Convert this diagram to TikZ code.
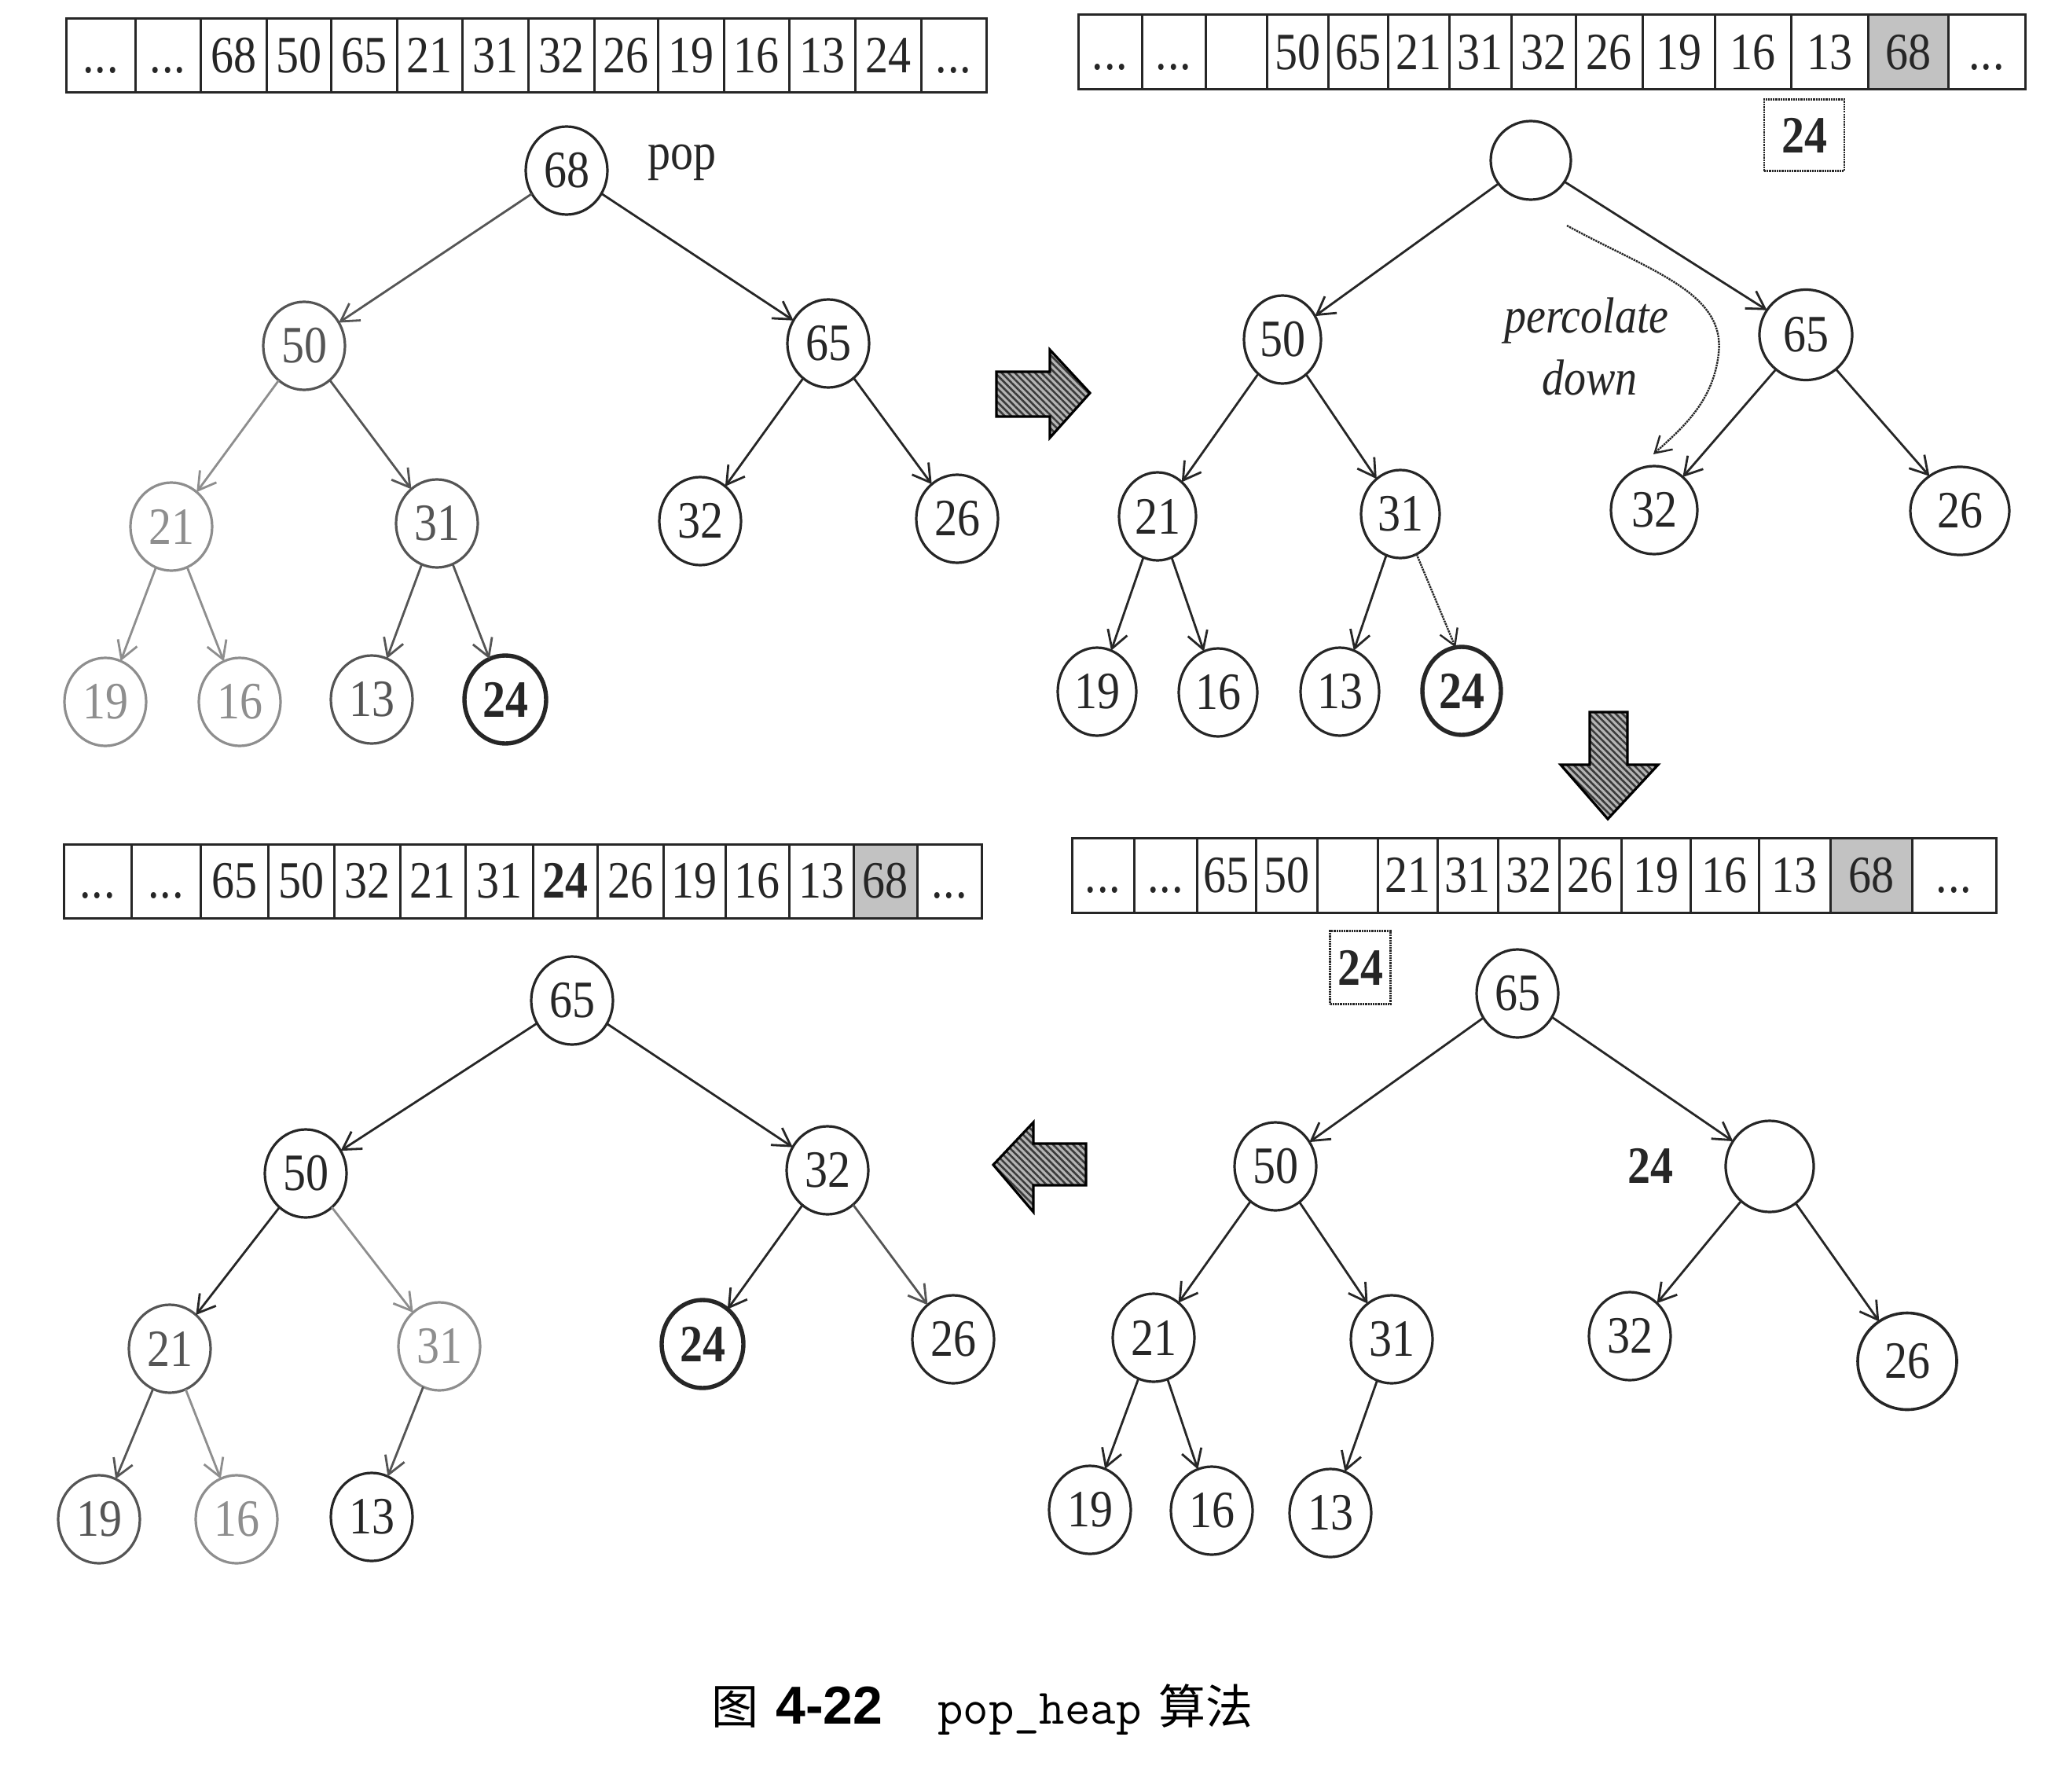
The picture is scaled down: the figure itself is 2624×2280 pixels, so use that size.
\documentclass[tikz,border=0pt]{standalone}
\usepackage{fontspec}
\setmainfont{Liberation Serif}
\newfontfamily\cjk{Noto Sans CJK SC}
\newfontfamily\capsans{Liberation Sans}
\usepackage{graphicx}
\usetikzlibrary{arrows.meta,shapes.geometric,patterns.meta}
\definecolor{ink}{HTML}{262626}
\definecolor{mid}{HTML}{555555}
\definecolor{lite}{HTML}{8E8E8E}
\definecolor{cg}{HTML}{C2C2C2}
\definecolor{hlight}{HTML}{B4B4B4}
\definecolor{hdark}{HTML}{3A3A3A}
\newcommand\numfont{\fontsize{58}{60}\selectfont}
\newcommand\tnum[1]{\scalebox{1}[1.15]{#1}}
\newcommand\tdots{.\kern1pt.\kern1pt.}
\newcommand\drawarray[4]{%
  \foreach \xa/\xb/\txt/\fc [count=\i] in {#4} {%
    \node[cell, fill=\fc, minimum width={\xb pt-\xa pt}, minimum height={#3pt-#2pt}]
      (#1\i) at ({(\xa+\xb)/2},{(#2+#3)/2}) {\tnum{\vphantom{0}\txt}};
  }%
}
\begin{document}
\begin{tikzpicture}[x=1pt,y=-1pt,
  nd/.style={ellipse, draw=ink, text=ink, line width=3.2pt, minimum width=104pt,
    minimum height=112pt, inner sep=0pt, outer sep=0pt, font=\numfont},
  bnd/.style={nd, line width=5.4pt, font=\numfont\bfseries},
  lnd/.style={nd, draw=lite, text=lite},
  mnd/.style={nd, draw=mid, text=mid},
  arr/.style={draw=ink, line width=2.8pt, -{Straight Barb[length=22pt,width=26pt]}},
  larr/.style={arr, draw=lite},
  marr/.style={arr, draw=mid},
  darr/.style={draw=ink, densely dotted, line width=2.4pt, -{Straight Barb[length=20pt,width=24pt]}},
  cell/.style={rectangle, draw=ink, line width=3pt, inner sep=0pt, outer sep=0pt,
    font=\numfont, text=ink},
  dbox/.style={rectangle, draw=ink, densely dotted, line width=2.2pt, inner sep=0pt,
    font=\numfont\bfseries, text=ink},
  lbl/.style={inner sep=0pt, font=\numfont, text=ink},
  blk/.style={draw=black, line width=3.2pt, preaction={fill=hlight},
    pattern={Lines[angle=-45,distance=6pt,line width=2.6pt]}, pattern color=hdark,
    line join=miter}
]
\fill[white] (0,0) rectangle (2624,2280);
\useasboundingbox (0,0) rectangle (2624,2280);

% ---------------- arrays ----------------
\drawarray{ta}{24}{118}{84/172/\tdots/white, 172/255/\tdots/white, 255/339/68/white,
  339/421/50/white, 421/505/65/white, 505/588/21/white, 588/672/31/white,
  672/756/32/white, 756/837/26/white, 837/921/19/white, 921/1004/16/white,
  1004/1088/13/white, 1088/1172/24/white, 1172/1255/\tdots/white}
\drawarray{tb}{19}{114}{1372/1453/\tdots/white, 1453/1534/\tdots/white, 1534/1612/{}/white,
  1612/1690/50/white, 1690/1766/65/white, 1766/1844/21/white, 1844/1923/31/white,
  1923/2005/32/white, 2005/2090/26/white, 2090/2182/19/white, 2182/2279/16/white,
  2279/2377/13/white, 2377/2479/68/cg, 2479/2577/\tdots/white}
\drawarray{tc}{1074}{1168}{81/167/\tdots/white, 167/255/\tdots/white, 255/341/65/white,
  341/425/50/white, 425/509/32/white, 509/592/21/white, 592/678/31/white,
  678/760/\textbf{24}/white, 760/844/26/white, 844/923/19/white, 923/1004/16/white,
  1004/1086/13/white, 1086/1167/68/cg, 1167/1249/\tdots/white}
\drawarray{td}{1066}{1161}{1364/1443/\tdots/white, 1443/1523/\tdots/white, 1523/1598/65/white,
  1598/1676/50/white, 1676/1753/{}/white, 1753/1829/21/white, 1829/1906/31/white,
  1906/1984/32/white, 1984/2063/26/white, 2063/2151/19/white, 2151/2238/16/white,
  2238/2329/13/white, 2329/2433/68/cg, 2433/2540/\tdots/white}

% ---------------- panel 1 ----------------
\node[nd]  (p1a) at (721,217) {\tnum{68}};
\node[lbl] (pop) at (868,207) {\tnum{pop}};
\node[mnd] (p1b) at (387,440) {\tnum{50}};
\node[nd]  (p1c) at (1054,437) {\tnum{65}};
\node[lnd] (p1d) at (218,670) {\tnum{21}};
\node[mnd] (p1e) at (556,666) {\tnum{31}};
\node[nd]  (p1f) at (891,663) {\tnum{32}};
\node[nd]  (p1g) at (1218,660) {\tnum{26}};
\node[lnd] (p1h) at (134,893) {\tnum{19}};
\node[lnd] (p1i) at (305,893) {\tnum{16}};
\node[mnd] (p1j) at (473,890) {\tnum{13}};
\node[bnd] (p1k) at (643,890) {\tnum{24}};
\draw[marr] (p1a) -- (p1b);
\draw[arr]  (p1a) -- (p1c);
\draw[larr] (p1b) -- (p1d);
\draw[marr] (p1b) -- (p1e);
\draw[arr]  (p1c) -- (p1f);
\draw[arr]  (p1c) -- (p1g);
\draw[larr] (p1d) -- (p1h);
\draw[larr] (p1d) -- (p1i);
\draw[marr] (p1e) -- (p1j);
\draw[marr] (p1e) -- (p1k);

% ---------------- panel 2 ----------------
\node[dbox, minimum width=102pt, minimum height=91pt] (q24) at (2296,172) {\tnum{24}};
\node[nd, minimum width=102pt, minimum height=100pt] (q0) at (1948,204) {};
\node[nd, minimum width=98pt] (q1) at (1632,432) {\tnum{50}};
\node[nd, minimum width=118pt, minimum height=115pt] (q2) at (2298,426) {\tnum{65}};
\node[nd, minimum width=98pt] (q3) at (1473,657) {\tnum{21}};
\node[nd, minimum width=100pt] (q4) at (1782,654) {\tnum{31}};
\node[nd, minimum width=110pt] (q5) at (2105,649) {\tnum{32}};
\node[nd, minimum width=126pt, minimum height=112pt] (q6) at (2494,650) {\tnum{26}};
\node[nd, minimum width=100pt] (q7) at (1396,880) {\tnum{19}};
\node[nd, minimum width=100pt] (q8) at (1550,881) {\tnum{16}};
\node[nd, minimum width=100pt] (q9) at (1705,880) {\tnum{13}};
\node[bnd, minimum width=100pt] (q10) at (1860,879) {\tnum{24}};
\node[lbl, font=\fontsize{56}{58}\selectfont\itshape] (perc) at (2019,408) {\tnum{percolate}};
\node[lbl, font=\fontsize{56}{58}\selectfont\itshape] (down) at (2023,480) {\tnum{down}};
\draw[arr] (q0) -- (q1);
\draw[arr] (q0) -- (q2);
\draw[arr] (q1) -- (q3);
\draw[arr] (q1) -- (q4);
\draw[arr] (q2) -- (q5);
\draw[arr] (q2) -- (q6);
\draw[arr] (q3) -- (q7);
\draw[arr] (q3) -- (q8);
\draw[arr] (q4) -- (q9);
\draw[darr] (q4.-68) -- (q10.98);
\coordinate (pc0) at (1994,287);
\coordinate (pc1) at (2104,578);
\draw[darr] (pc0) .. controls (2100,345) and (2196,372) .. (2187,450)
  .. controls (2180,512) and (2140,545) .. (pc1);

% ---------------- panel 3 ----------------
\node[nd]  (r0) at (728,1273) {\tnum{65}};
\node[nd]  (r1) at (389,1493) {\tnum{50}};
\node[nd]  (r2) at (1053,1489) {\tnum{32}};
\node[mnd] (r3) at (216,1716) {\tnum{21}};
\node[lnd] (r4) at (559,1713) {\tnum{31}};
\node[bnd] (r5) at (894,1710) {\tnum{24}};
\node[nd]  (r6) at (1213,1704) {\tnum{26}};
\node[mnd] (r7) at (126,1933) {\tnum{19}};
\node[lnd] (r8) at (301,1933) {\tnum{16}};
\node[nd]  (r9) at (473,1930) {\tnum{13}};
\draw[arr]  (r0) -- (r1);
\draw[arr]  (r0) -- (r2);
\draw[arr]  (r1) -- (r3);
\draw[larr] (r1) -- (r4);
\draw[arr]  (r2) -- (r5);
\draw[marr] (r2) -- (r6);
\draw[marr] (r3) -- (r7);
\draw[larr] (r3) -- (r8);
\draw[marr] (r4) -- (r9);

% ---------------- panel 4 ----------------
\node[dbox, minimum width=77pt, minimum height=93pt] (s24) at (1731,1231) {\tnum{24}};
\node[nd]  (s0) at (1931,1264) {\tnum{65}};
\node[nd]  (s1) at (1623,1484) {\tnum{50}};
\node[nd, minimum width=112pt, minimum height=116pt] (s2) at (2252,1484) {};
\node[lbl, font=\numfont\bfseries] (s24l) at (2100,1483) {\tnum{24}};
\node[nd]  (s3) at (1468,1702) {\tnum{21}};
\node[nd]  (s4) at (1771,1704) {\tnum{31}};
\node[nd]  (s5) at (2074,1700) {\tnum{32}};
\node[nd, minimum width=126pt, minimum height=123pt, line width=3.6pt] (s6) at (2427,1732) {\tnum{26}};
\node[nd]  (s7) at (1387,1921) {\tnum{19}};
\node[nd]  (s8) at (1542,1922) {\tnum{16}};
\node[nd]  (s9) at (1693,1925) {\tnum{13}};
\draw[arr] (s0) -- (s1);
\draw[arr] (s0) -- (s2);
\draw[arr] (s1) -- (s3);
\draw[arr] (s1) -- (s4);
\draw[arr] (s2) -- (s5);
\draw[arr] (s2) -- (s6);
\draw[arr] (s3) -- (s7);
\draw[arr] (s3) -- (s8);
\draw[arr] (s4) -- (s9);

% ---------------- block arrows ----------------
\draw[blk] (1268,473) -- (1336,473) -- (1336,445) -- (1387,500) -- (1336,557)
  -- (1336,530) -- (1268,530) -- cycle;
\draw[blk] (2023,906) -- (2071,906) -- (2071,973) -- (2110,973) -- (2046,1042)
  -- (1986,973) -- (2023,973) -- cycle;
\draw[blk] (1382,1455) -- (1315,1455) -- (1315,1428) -- (1264,1482) -- (1315,1542)
  -- (1315,1508) -- (1382,1508) -- cycle;

% ---------------- caption ----------------
\node[anchor=base west, inner sep=0pt, text=black, font=\cjk\fontsize{60}{60}\selectfont]
  (capA) at (905,2193) {图};
\node[anchor=base west, inner sep=0pt, text=black, font=\capsans\bfseries\fontsize{68}{68}\selectfont]
  (capB) at (987,2193) {4-22};
\node[anchor=base west, inner sep=0pt, text=black, font=\ttfamily\fontsize{63}{63}\selectfont]
  (capC) at (1193,2193) {pop\_heap};
\node[anchor=base west, inner sep=0pt, text=black, font=\cjk\fontsize{60}{60}\selectfont]
  (capD) at (1474,2193) {算法};
\end{tikzpicture}
\end{document}
